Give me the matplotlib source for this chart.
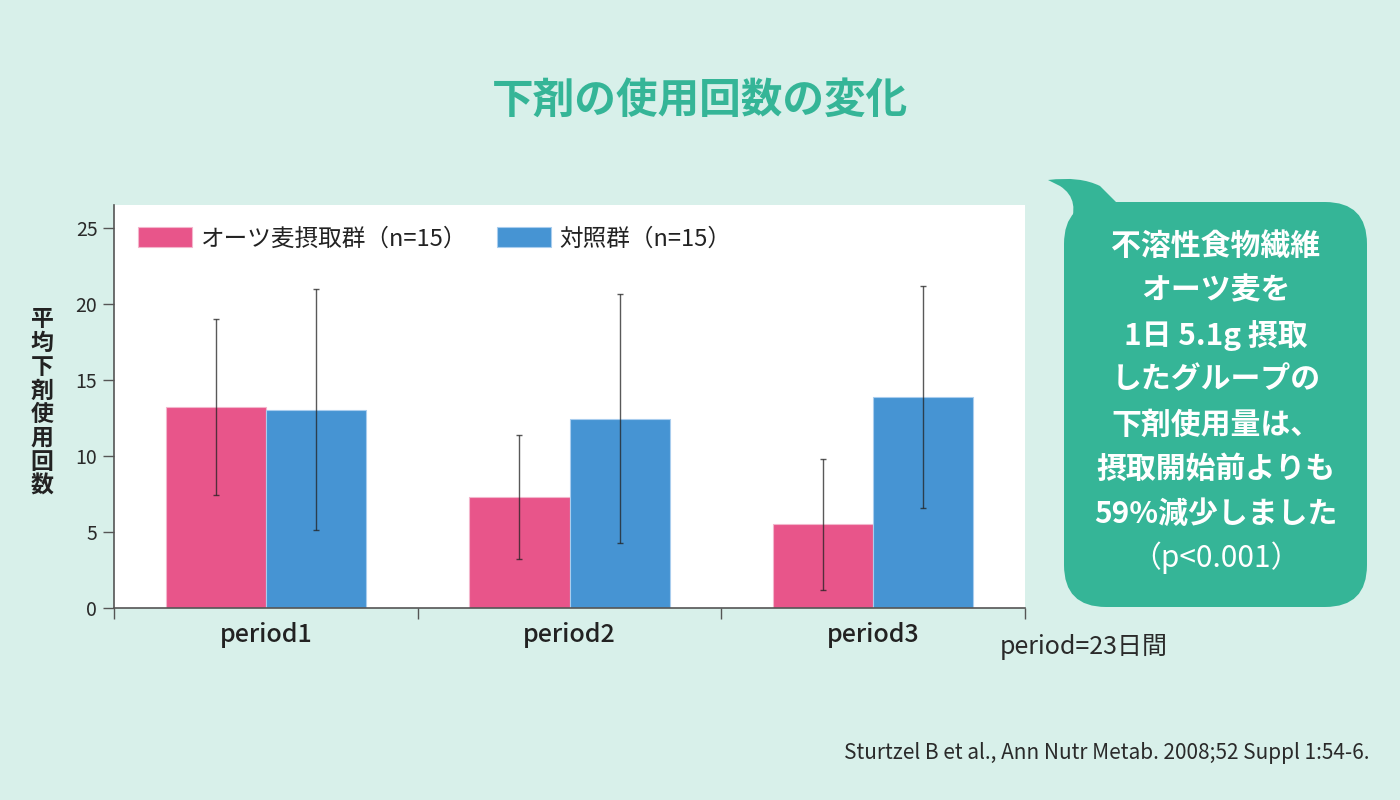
import matplotlib
matplotlib.use("Agg")
from matplotlib import pyplot as plt
from matplotlib.patches import FancyBboxPatch, PathPatch
from matplotlib.path import Path
import numpy as np

plt.rcParams['font.family'] = ['Noto Sans CJK JP', 'DejaVu Sans']

periods = ['period1', 'period2', 'period3']
oat_mean = [13.2, 7.3, 5.5]
oat_err = [5.8, 4.05, 4.3]
ctrl_mean = [13.05, 12.45, 13.9]
ctrl_err = [7.9, 8.2, 7.3]
series_names = ['オーツ麦摂取群（n=15）', '対照群（n=15）']
yticks = [0, 5, 10, 15, 20, 25]
bubble_lines = ['不溶性食物繊維', 'オーツ麦を', '1日 5.1g 摂取', 'したグループの',
                '下剤使用量は、', '摂取開始前よりも', '59%減少しました', '（p<0.001）']

bg = '#D8F0EA'
pink = '#E8558A'
blue = '#4694D3'
green = '#35B597'
dark = '#2a2a2a'

fig = plt.figure(figsize=(14, 8), dpi=100, facecolor=bg)
ax = fig.add_axes([114 / 1400, 1 - 608 / 800, 911 / 1400, 403 / 800])
ax.set_facecolor('white')

x = np.arange(len(periods))
w = 0.33
ax.bar(x - w / 2, oat_mean, w, color=pink, edgecolor='#F3B6CC', linewidth=0.8,
       label=series_names[0], zorder=2)
ax.bar(x + w / 2, ctrl_mean, w, color=blue, edgecolor='#A9CDEE', linewidth=0.8,
       label=series_names[1], zorder=2)
ax.errorbar(x - w / 2, oat_mean, yerr=oat_err, fmt='none', ecolor='#222222',
            elinewidth=1.0, capsize=2.5, capthick=1.0, alpha=0.75, zorder=3)
ax.errorbar(x + w / 2, ctrl_mean, yerr=ctrl_err, fmt='none', ecolor='#222222',
            elinewidth=1.0, capsize=2.5, capthick=1.0, alpha=0.75, zorder=3)

ax.set_xlim(-0.5, 2.5)
ax.set_ylim(0, 26.5)
ax.set_yticks(yticks)
ax.set_yticklabels([str(t) for t in yticks], fontsize=14, color=dark)
ax.tick_params(axis='y', length=8, width=1, color='#555555', pad=4)

ax.set_xticks([-0.5, 0.5, 1.5, 2.5])
ax.set_xticklabels([])
ax.set_xticks(x, minor=True)
ax.set_xticklabels(periods, minor=True, fontsize=18, color='#222222', fontweight='medium')
ax.tick_params(axis='x', which='major', length=8, width=1, color='#555555')
ax.tick_params(axis='x', which='minor', length=0, pad=10)

for s in ['top', 'right']:
    ax.spines[s].set_visible(False)
for s in ['left', 'bottom']:
    ax.spines[s].set_color('#555555')
    ax.spines[s].set_linewidth(1.2)

ax.legend(loc='upper left', ncol=2, frameon=False, fontsize=17, handlelength=2.3,
          handleheight=0.95, columnspacing=1.25, handletextpad=0.35,
          bbox_to_anchor=(0.003, 0.998), labelcolor='#222222')

fig.text(0.5, 1 - 101 / 800, '下剤の使用回数の変化', ha='center', va='center',
         fontsize=30, fontweight='bold', color=green)

fig.text(42 / 1400, 1 - 403 / 800, '\n'.join('平均下剤使用回数'), ha='center', va='center',
         fontsize=16.5, fontweight='bold', color='#222222', linespacing=1.04)

fig.text(1000 / 1400, 1 - 647 / 800, 'period=23日間', ha='left', va='center',
         fontsize=18, color=dark)
fig.text(1370 / 1400, 1 - 753 / 800, 'Sturtzel B et al., Ann Nutr Metab. 2008;52 Suppl 1:54-6.',
         ha='right', va='center', fontsize=15, color=dark)

# speech bubble
W, H = 1400, 800
bx0, by0, bx1, by1 = 1064, 202, 1367, 607
box = FancyBboxPatch((bx0 / W, 1 - by1 / H), (bx1 - bx0) / W, (by1 - by0) / H,
                     boxstyle='round,pad=0,rounding_size=0.03', mutation_aspect=W / H,
                     transform=fig.transFigure, facecolor=green, edgecolor='none')
fig.patches.append(box)
tail_px = [(1068, 230), (1082, 200), (1060, 186), (1048, 180), (1080, 176),
           (1100, 186), (1118, 204), (1068, 230)]
codes = [Path.MOVETO, Path.CURVE3, Path.CURVE3, Path.LINETO, Path.CURVE3,
         Path.CURVE3, Path.LINETO, Path.CLOSEPOLY]
tail = Path([(px / W, 1 - py / H) for px, py in tail_px], codes)
fig.patches.append(PathPatch(tail, transform=fig.transFigure, facecolor=green,
                             edgecolor='none'))

for i, line in enumerate(bubble_lines):
    yy = 246 + i * 44.6
    fig.text(1216 / W, 1 - yy / H, line, ha='center', va='center', fontsize=21.5,
             color='white', fontweight='normal' if i == len(bubble_lines) - 1 else 'bold')

fig.savefig('out.png', dpi=100, facecolor=bg)
